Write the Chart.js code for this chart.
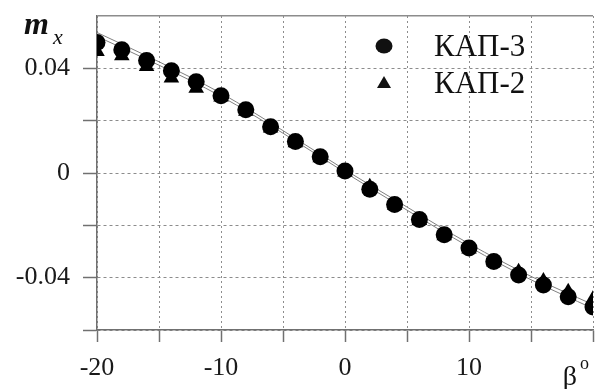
<!DOCTYPE html>
<html>
<head>
<meta charset="utf-8">
<script src="https://cdn.jsdelivr.net/npm/chart.js@4.4.1/dist/chart.umd.min.js"></script>
<style>
  html, body { margin: 0; padding: 0; background: #fff; }
  #wrap { width: 603px; height: 389px; }
</style>
</head>
<body>
<div id="wrap"><canvas id="mxChart" width="603" height="389"></canvas></div>
<script>
"use strict"

// углы скольжения, град
let beta = [-20, -18, -16, -14, -12, -10, -8, -6, -4, -2, 0, 2, 4, 6, 8, 10, 12, 14, 16, 18, 20];

// КАП-3 (кружки)
let kap3 = [0.0499, 0.0471, 0.0430, 0.0391, 0.0349, 0.0295, 0.0242, 0.0177, 0.0120, 0.0062, 0.0008,
    -0.0062, -0.0120, -0.0178, -0.0236, -0.0287, -0.0338, -0.0390, -0.0428, -0.0473, -0.0512];

// КАП-2 (треугольники)
let kap2 = [0.0464, 0.0448, 0.0407, 0.0363, 0.0324, 0.0290, 0.0236, 0.0172, 0.0116, 0.0058, 0.0004,
    -0.0053, -0.0123, -0.0182, -0.0240, -0.0290, -0.0340, -0.0377, -0.0413, -0.0454, -0.0482];

// две расчётные кривые
let betaLine = [-20, -15, -10, -5, 0, 5, 10, 15, 20];
let lineUpper = [0.0537, 0.0425, 0.0305, 0.0162, 0.0012, -0.0130, -0.0270, -0.0395, -0.0503];
let lineLower = [0.0522, 0.0412, 0.0293, 0.0152, 0.0002, -0.0142, -0.0282, -0.0408, -0.0518];

// подписи осей
let xLabelValues = [-20, -10, 0, 10];
let xLabelTexts = ["-20", "-10", "0", "10"];
let yLabelValues = [0.04, 0, -0.04];
let yLabelTexts = ["0.04", "0", "-0.04"];

let names = ["КАП-3", "КАП-2"];

function toPoints(xs, ys) { // пары x,y для scatter
    let pts = [];
    for (let i = 0; i < xs.length; i++) {
        pts.push({ x: xs[i], y: ys[i] });
    }
    return pts;
}

function findLabel(values, texts, v) {
    for (let i = 0; i < values.length; i++) {
        if (Math.abs(values[i] - v) < 1e-9) return texts[i];
    }
    return "";
}

const serif = '"Liberation Serif", "Times New Roman", serif';

// подписи m_x, β° и легенда
const extraText = {
    id: "extraText",
    beforeDraw(chart) {
        const ctx = chart.ctx;
        ctx.save();
        ctx.fillStyle = "#fff";
        ctx.fillRect(0, 0, chart.width, chart.height);
        ctx.restore();
    },
    afterDraw(chart) {
        const ctx = chart.ctx;
        const xs = chart.scales.x;
        ctx.save();
        ctx.fillStyle = "#111";
        ctx.textBaseline = "alphabetic";

        ctx.font = "italic bold 32px " + serif;
        ctx.fillText("m", 24, 34);
        ctx.font = "italic 22px " + serif;
        ctx.fillText("x", 53, 44);

        let bx = xs.getPixelForValue(20);
        ctx.font = "28px " + serif;
        ctx.textAlign = "right";
        ctx.fillText("β", bx - 16, 385);
        ctx.font = "18px " + serif;
        ctx.textAlign = "left";
        ctx.fillText("o", bx - 13, 369);

        // легенда
        ctx.font = "31px " + serif;
        ctx.textAlign = "left";
        let rows = [46, 83];
        for (let i = 0; i < names.length; i++) {
            let cy = rows[i];
            ctx.beginPath();
            if (i === 0) {
                ctx.ellipse(384, cy, 8.5, 7.5, 0, 0, Math.PI * 2);
            } else {
                ctx.moveTo(384, cy - 7);
                ctx.lineTo(391, cy + 5);
                ctx.lineTo(377, cy + 5);
                ctx.closePath();
            }
            ctx.fill();
            ctx.fillText(names[i], 434, cy + 10);
        }
        ctx.restore();
    }
};

let ctxChart = document.getElementById("mxChart");

new Chart(ctxChart, {
    type: "scatter",
    data: {
        datasets: [
            {
                label: names[0],
                data: toPoints(beta, kap3),
                pointStyle: "circle",
                pointRadius: 8.5,
                backgroundColor: "#000",
                borderColor: "#000",
                borderWidth: 0,
                order: 0
            },
            {
                label: names[1],
                data: toPoints(beta, kap2),
                pointStyle: "triangle",
                pointRadius: 9,
                backgroundColor: "#000",
                borderColor: "#000",
                borderWidth: 0,
                order: 1
            },
            {
                type: "line",
                label: "upper",
                data: toPoints(betaLine, lineUpper),
                showLine: true,
                pointRadius: 0,
                borderColor: "#808080",
                borderWidth: 1,
                cubicInterpolationMode: "monotone",
                order: 2
            },
            {
                type: "line",
                label: "lower",
                data: toPoints(betaLine, lineLower),
                showLine: true,
                pointRadius: 0,
                borderColor: "#808080",
                borderWidth: 1,
                cubicInterpolationMode: "monotone",
                order: 2
            }
        ]
    },
    options: {
        responsive: false,
        animation: false,
        layout: { padding: { top: 16, right: 10, left: 0, bottom: 0 } },
        plugins: {
            legend: { display: false },
            tooltip: { enabled: false }
        },
        scales: {
            x: {
                type: "linear",
                min: -20,
                max: 20,
                afterFit(scale) {
                    scale.height = 389 - 330;
                    scale.paddingLeft = 0;
                    scale.paddingRight = 0;
                },
                ticks: {
                    stepSize: 5,
                    autoSkip: false,
                    maxRotation: 0,
                    padding: 11,
                    color: "#1a1a1a",
                    font: { family: serif, size: 26 },
                    callback: (v) => findLabel(xLabelValues, xLabelTexts, v)
                },
                grid: {
                    color: "#8c8c8c",
                    lineWidth: 1,
                    tickColor: "#707070",
                    tickWidth: 1.5,
                    tickLength: 12
                },
                border: { color: "#707070", width: 1.5, dash: [2, 3] }
            },
            y: {
                min: -0.06,
                max: 0.06,
                afterFit(scale) {
                    scale.width = 97;
                    scale.paddingTop = 0;
                    scale.paddingBottom = 0;
                },
                ticks: {
                    stepSize: 0.02,
                    autoSkip: false,
                    padding: 13,
                    color: "#1a1a1a",
                    font: { family: serif, size: 26 },
                    callback: (v) => findLabel(yLabelValues, yLabelTexts, v)
                },
                grid: {
                    color: "#8c8c8c",
                    lineWidth: (c) => (c.tick && c.tick.value > 0.059) ? 1.5 : 1,
                    tickColor: (c) => (c.tick && c.tick.value > 0.059) ? "rgba(0,0,0,0)" : "#707070",
                    tickWidth: 1.5,
                    tickLength: 14
                },
                border: {
                    color: "#707070",
                    width: 1.5,
                    dash: (c) => (c.tick && c.tick.value > 0.059) ? [] : [3, 3]
                }
            }
        }
    },
    plugins: [extraText]
});
</script>
</body>
</html>
